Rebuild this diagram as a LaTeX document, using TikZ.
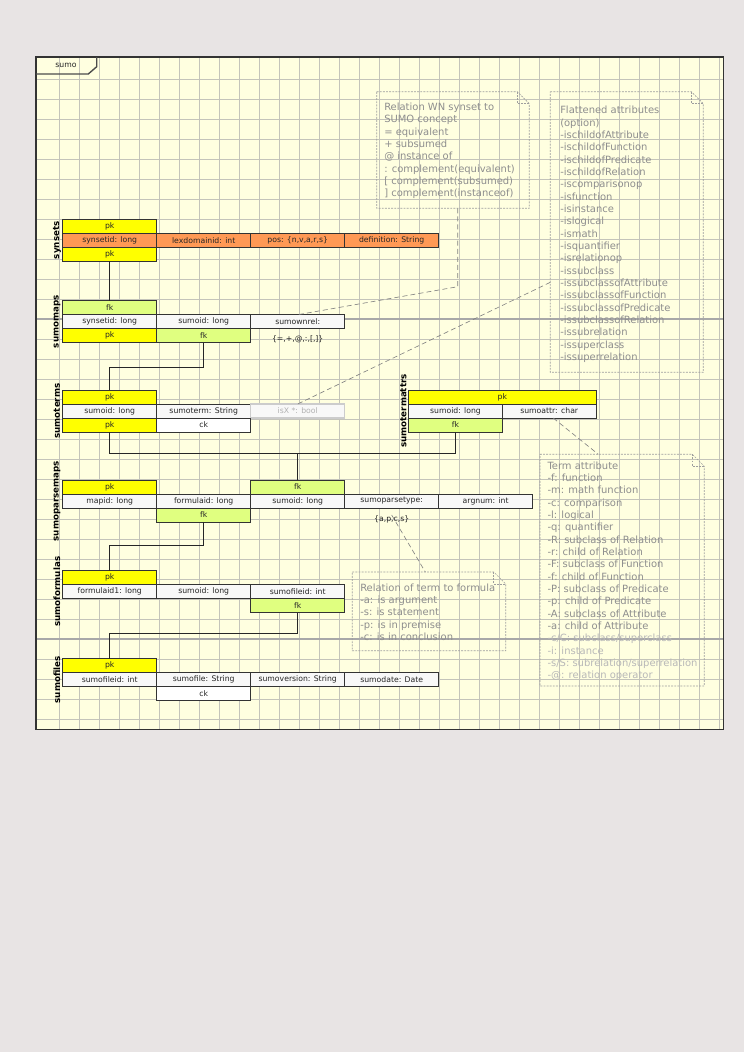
\documentclass[tikz,border=0pt]{standalone}
\usepackage{fontspec}
\setmainfont{DejaVu Sans}
\usetikzlibrary{calc}
\def\px{0.28226mm}
\definecolor{pagebg}{HTML}{E8E4E4}
\definecolor{paper}{HTML}{FFFFE0}
\definecolor{gridc}{HTML}{C4C4BA}
\definecolor{pagec}{HTML}{A8A8A8}
\definecolor{pkc}{HTML}{FFFF00}
\definecolor{fkc}{HTML}{E0FF80}
\definecolor{attc}{HTML}{FF9955}
\definecolor{cellc}{HTML}{F8F8F8}
\definecolor{notec}{HTML}{8E8E8E}
\definecolor{notelight}{HTML}{B8B8B8}
\tikzset{
  cell/.style={draw=black!80, line width=0.7pt, fill=cellc, minimum width=94*\px,
    minimum height=14*\px, inner sep=0pt, outer sep=0pt,
    font=\fontsize{6.2}{7}\selectfont, text=black!85},
  pkcell/.style={cell, fill=pkc},
  fkcell/.style={cell, fill=fkc},
  attcell/.style={cell, fill=attc},
  ckcell/.style={cell, fill=white},
  ghostcell/.style={cell, draw=black!20, line width=1pt, text=black!30},
  plaintext/.style={inner sep=0pt, font=\fontsize{6.2}{7}\selectfont, text=black!85},
  tablabel/.style={rotate=90, inner sep=0pt, font=\bfseries\fontsize{7}{8}\selectfont},
  notebox/.style={draw=none, inner sep=0pt, outer sep=0pt, anchor=north west},
  notetext/.style={anchor=north west, inner sep=0pt, align=left, text=notec,
    font=\fontsize{8}{9.9}\selectfont},
  notepen/.style={draw=black!38, line width=0.5pt, dash pattern=on 1.5pt off 1pt},
  link/.style={draw=black!85, line width=0.7pt},
  notelink/.style={draw=black!50, line width=0.5pt, dash pattern=on 4pt off 2.5pt},
}
% dashed note outline with a folded top-right corner
\newcommand\dogear[1]{%
  \draw[notepen] (#1.north west) -- ($(#1.north east)+(-12,0)$)
    -- ($(#1.north east)+(0,12)$) -- (#1.south east) -- (#1.south west) -- cycle;
  \draw[notepen] ($(#1.north east)+(-12,0)$) |- ($(#1.north east)+(0,12)$);
}
\begin{document}
\begin{tikzpicture}[x=\px, y=-\px]
\useasboundingbox[fill=pagebg] (0,0) rectangle (744,1052);

% sheet and grid
\fill[paper] (36,57) rectangle (723.5,729.5);
\foreach \i in {0,...,33}
  \draw[gridc, line width=0.7pt] ({59.3+20*\i},57) -- ({59.3+20*\i},729.5);
\foreach \j in {0,...,32}
  \draw[gridc, line width=0.7pt] (36,{79.3+20*\j}) -- (723.5,{79.3+20*\j});
\draw[pagec, line width=1.3pt] (36,319.3) -- (723.5,319.3);
\draw[pagec, line width=1.3pt] (36,639.3) -- (723.5,639.3);
\draw[black!80, line width=1pt] (36,57) rectangle (723.5,729.5);

% package tab
\draw[black!70, line width=1.1pt] (36,74) -- (88.3,74) -- (96.7,66.7) -- (96.7,57);
\node[plaintext] (pkgname) at (66,65.3) {sumo};

% notes
\node[notebox, minimum width=152.6*\px, minimum height=116.6*\px] (note1) at (376.7,91.7) {};
\dogear{note1}
\node[notetext] (note1t) at (384,102.7) {Relation WN synset to\\SUMO concept\\= equivalent\\+ subsumed\\@ instance of\\: complement(equivalent)\\{[} complement(subsumed)\\] complement(instanceof)};

\node[notebox, minimum width=153*\px, minimum height=280.6*\px] (note2) at (550.3,91.7) {};
\dogear{note2}
\node[notetext] (note2t) at (560,106) {Flattened attributes\\(option)\\-ischildofAttribute\\-ischildofFunction\\-ischildofPredicate\\-ischildofRelation\\-iscomparisonop\\-isfunction\\-isinstance\\-islogical\\-ismath\\-isquantifier\\-isrelationop\\-issubclass\\-issubclassofAttribute\\-issubclassofFunction\\-issubclassofPredicate\\-issubclassofRelation\\-issubrelation\\-issuperclass\\-issuperrelation};

\node[notebox, minimum width=164.3*\px, minimum height=231.7*\px] (note3) at (540,454.3) {};
\dogear{note3}
\node[notetext] (note3t) at (547.3,461.3) {Term attribute\\-f: function\\-m: math function\\-c: comparison\\-l: logical\\-q: quantifier\\-R: subclass of Relation\\-r: child of Relation\\-F: subclass of Function\\-f: child of Function\\-P: subclass of Predicate\\-p: child of Predicate\\-A: subclass of Attribute\\-a: child of Attribute\\\textcolor{notelight}{-c/C: subclass/superclass}\\\textcolor{notelight}{-i: instance}\\\textcolor{notelight}{-s/S: subrelation/superrelation}\\\textcolor{notelight}{-@: relation operator}};

\node[notebox, minimum width=153.4*\px, minimum height=78.7*\px] (note4) at (352.3,572) {};
\dogear{note4}
\node[notetext] (note4t) at (360,583.3) {Relation of term to formula\\-a: is argument\\-s: is statement\\-p: is in premise\\-c: is in conclusion};

% synsets
\node[pkcell] (syn-pk) at (109.7,226.3) {pk};
\node[attcell] (syn-id) at (109.7,240.3) {synsetid: long};
\node[attcell] (syn-lex) at (203.7,240.3) {lexdomainid: int};
\node[attcell] (syn-pos) at (297.7,240.3) {pos: \{n,v,a,r,s\}};
\node[attcell] (syn-def) at (391.7,240.3) {definition: String};
\node[pkcell] (syn-pk2) at (109.7,254.3) {pk};
\node[tablabel] (syn-lbl) at (57,240.3) {synsets};

% sumomaps
\node[fkcell] (map-fk) at (109.7,307.7) {fk};
\node[cell] (map-syn) at (109.7,321.7) {synsetid: long};
\node[cell] (map-sumo) at (203.7,321.7) {sumoid: long};
\node[cell] (map-rel) at (297.7,321.7) {sumownrel:};
\node[pkcell] (map-pk) at (109.7,335.7) {pk};
\node[fkcell] (map-fk2) at (203.7,335.7) {fk};
\node[plaintext] (map-relv) at (297.7,339.3) {\{=,+,@,:,[,]\}};
\node[tablabel] (map-lbl) at (57,321.7) {sumomaps};

% sumoterms
\node[pkcell] (term-pk) at (109.7,397) {pk};
\node[cell] (term-id) at (109.7,411) {sumoid: long};
\node[cell] (term-term) at (203.7,411) {sumoterm: String};
\node[ghostcell] (term-isx) at (297.7,411) {isX *: bool};
\node[pkcell] (term-pk2) at (109.7,425) {pk};
\node[ckcell] (term-ck) at (203.7,425) {ck};
\node[tablabel] (term-lbl) at (57,411) {sumoterms};

% sumotermattrs
\node[pkcell, minimum width=187.3*\px] (attr-pk) at (502.3,397) {pk};
\node[cell, minimum width=93.6*\px] (attr-id) at (455.5,411) {sumoid: long};
\node[cell, minimum width=93.6*\px] (attr-attr) at (549.2,411) {sumoattr: char};
\node[fkcell, minimum width=93.6*\px] (attr-fk) at (455.5,425) {fk};
\node[tablabel] (attr-lbl) at (403.3,411) {sumotermattrs};

% sumoparsemaps
\node[pkcell] (pm-pk) at (109.7,487) {pk};
\node[fkcell] (pm-fk) at (297.7,487) {fk};
\node[cell] (pm-map) at (109.7,501) {mapid: long};
\node[cell] (pm-form) at (203.7,501) {formulaid: long};
\node[cell] (pm-sumo) at (297.7,501) {sumoid: long};
\node[cell] (pm-type) at (391.7,501) {sumoparsetype:};
\node[cell] (pm-arg) at (485.7,501) {argnum: int};
\node[fkcell] (pm-fk2) at (203.7,515) {fk};
\node[plaintext] (apcs) at (391.7,519) {\{a,p,c,s\}};
\node[tablabel] (pm-lbl) at (57,501) {sumoparsemaps};

% sumoformulas
\node[pkcell] (form-pk) at (109.7,577.7) {pk};
\node[cell] (form-id) at (109.7,591.7) {formulaid1: long};
\node[cell] (form-sumo) at (203.7,591.7) {sumoid: long};
\node[cell] (form-file) at (297.7,591.7) {sumofileid: int};
\node[fkcell] (form-fk) at (297.7,605.7) {fk};
\node[tablabel] (form-lbl) at (57,591.7) {sumoformulas};

% sumofiles
\node[pkcell] (file-pk) at (109.7,665.7) {pk};
\node[cell] (file-id) at (109.7,679.7) {sumofileid: int};
\node[cell] (file-name) at (203.7,679.7) {sumofile: String};
\node[cell] (file-ver) at (297.7,679.7) {sumoversion: String};
\node[cell] (file-date) at (391.7,679.7) {sumodate: Date};
\node[ckcell] (file-ck) at (203.7,693.7) {ck};
\node[tablabel] (file-lbl) at (57,679.7) {sumofiles};

% key links
\draw[link] (syn-pk2.south) -- (map-fk.north);
\draw[link] (map-fk2.south) -- ++(0,24.3) -| (term-pk.north);
\coordinate (bus) at (297.7,453.3);
\draw[link] (term-pk2.south) |- (bus) -| (attr-fk.south);
\draw[link] (bus) -- (pm-fk.north);
\draw[link] (pm-fk2.south) -- ++(0,23) -| (form-pk.north);
\draw[link] (form-fk.south) -- ++(0,20.6) -| (file-pk.north);

% note anchors
\draw[notelink] ($(note1.south west)+(81,0)$) -- ++(0,78.4) -- (map-rel.north);
\draw[notelink] ($(note2.north west)+(0,190.6)$) -- (term-isx.north);
\draw[notelink] ($(attr-attr.south)+(4,0)$) -- ($(note3.north west)+(58.3,0)$);
\draw[notelink] (apcs.north) -- ($(note4.north west)+(73,0)$);
\end{tikzpicture}
\end{document}
